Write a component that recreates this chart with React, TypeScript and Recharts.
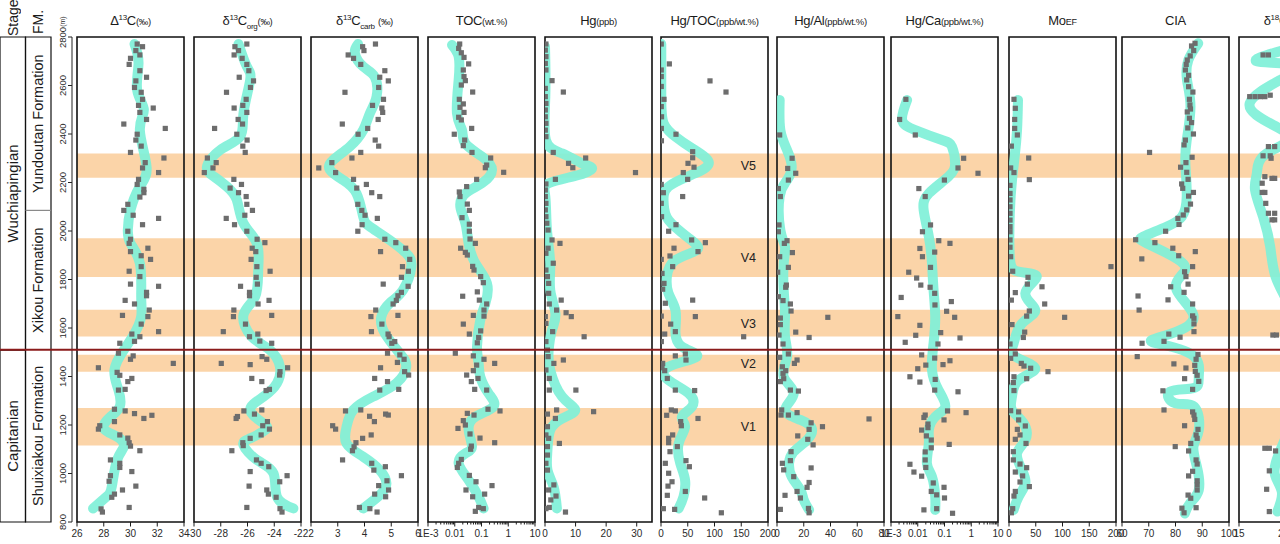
import React from 'react';
import { ComposedChart, Scatter, XAxis, YAxis, ReferenceArea, ReferenceLine } from 'recharts';

type Pair = [number, number];

// ---------------- data ----------------
const depthDomain: [number, number] = [800, 2800];
const depthTicks = [800, 1000, 1200, 1400, 1600, 1800, 2000, 2200, 2400, 2600, 2800];

const bandNames = ['V5', 'V4', 'V3', 'V2', 'V1'];
const bandTops = [2320, 1970, 1675, 1490, 1270];
const bandBases = [2220, 1810, 1565, 1420, 1115];
const boundaryDepth = 1510;

const stageNames = ['Wuchiapingian', 'Capitanian'];
const stageTops = [2800, 1510];
const stageBases = [1510, 800];
const fmNames = ['Yundoutan Formation', 'Xikou Formation', 'Shuixiakou Formation'];
const fmTops = [2800, 2085, 1510];
const fmBases = [2085, 1510, 800];

const capD13cPts: Pair[] = [[2771,30.5],[2760,30.9],[2744,30.4],[2726,30.7],[2712,30.0],[2687,29.9],[2661,30.7],[2634,31.2],[2619,30.4],[2592,30.3],[2572,30.8],[2543,30.9],[2507,31.7],[2518,30.6],[2489,30.7],[2460,31.2],[2441,29.5],[2423,32.6],[2399,30.5],[2375,30.4],[2350,30.8],[2324,30.0],[2301,32.5],[2282,31.1],[2260,30.9],[2241,32.1],[2213,30.6],[2192,30.5],[2172,31.0],[2158,31.0],[2140,30.7],[2110,29.8],[2085,29.5],[2065,30.2],[2052,32.1],[2026,30.9],[1999,29.8],[1966,30.0],[1949,29.9],[1929,31.3],[1915,30.0],[1898,30.8],[1883,31.5],[1853,30.8],[1834,29.9],[1812,30.7],[1781,30.0],[1772,32.1],[1747,31.2],[1733,31.2],[1714,29.6],[1699,30.3],[1674,31.4],[1652,29.4],[1647,31.3],[1616,30.8],[1585,32.1],[1575,30.1],[1564,30.7],[1545,30.3],[1537,29.2],[1496,29.1],[1485,30.2],[1471,30.0],[1454,33.2],[1436,27.6],[1417,29.0],[1405,29.2],[1392,30.1],[1379,29.8],[1347,29.6],[1344,29.1],[1265,28.8],[1258,29.6],[1247,30.3],[1240,31.6],[1227,31.0],[1214,28.8],[1197,27.7],[1183,27.6],[1159,29.2],[1146,29.8],[1127,29.9],[1113,30.0],[1094,30.7],[1056,28.5],[1042,29.2],[1025,29.2],[1008,30.1],[991,28.5],[968,28.4],[948,30.4],[932,29.4],[915,28.8],[902,28.6],[860,29.9],[854,27.8],[841,27.9]];
const capD13cLine: Pair[] = [[2771,30.3],[2691,30.6],[2581,30.5],[2500,31.0],[2416,30.7],[2265,31.2],[2183,30.7],[2087,30.0],[2004,29.8],[1949,30.0],[1867,30.7],[1729,30.8],[1647,30.8],[1578,30.3],[1509,29.5],[1427,28.8],[1344,29.1],[1276,29.2],[1234,28.5],[1186,28.0],[1152,29.0],[1111,29.5],[1056,29.0],[946,28.6],[904,28.2],[856,27.2]];

const orgPts: Pair[] = [[2771,-26.05],[2760,-26.94],[2744,-26.67],[2726,-27.0],[2712,-26.4],[2687,-26.05],[2661,-25.9],[2634,-26.62],[2619,-25.55],[2592,-25.78],[2572,-27.57],[2543,-26.1],[2518,-26.35],[2507,-27.0],[2489,-26.05],[2460,-26.7],[2441,-26.37],[2423,-28.46],[2399,-26.8],[2375,-26.03],[2350,-26.35],[2324,-26.17],[2301,-29.0],[2282,-28.34],[2260,-28.58],[2241,-29.23],[2213,-27.02],[2192,-26.45],[2177,-27.3],[2158,-26.67],[2142,-26.1],[2110,-26.05],[2085,-25.63],[2052,-27.59],[2065,-26.2],[2026,-26.97],[1999,-26.05],[1966,-25.28],[1952,-24.7],[1929,-25.65],[1915,-25.38],[1883,-25.73],[1853,-25.3],[1834,-24.31],[1809,-25.35],[1781,-25.26],[1772,-26.52],[1747,-25.85],[1733,-25.85],[1714,-24.39],[1699,-25.21],[1674,-27.02],[1647,-27.05],[1652,-24.19],[1616,-26.15],[1585,-27.81],[1575,-25.23],[1564,-25.85],[1546,-25.08],[1537,-24.19],[1482,-24.91],[1471,-24.56],[1454,-27.96],[1449,-25.8],[1436,-23.0],[1420,-23.57],[1406,-23.6],[1392,-25.68],[1379,-24.93],[1347,-24.36],[1342,-24.61],[1258,-26.27],[1262,-24.93],[1245,-25.48],[1235,-26.75],[1227,-26.85],[1214,-24.51],[1197,-24.86],[1183,-24.36],[1159,-24.98],[1145,-25.8],[1127,-26.35],[1115,-26.32],[1094,-27.17],[1056,-25.33],[1042,-24.98],[1028,-24.41],[1008,-25.8],[991,-23.04],[966,-23.59],[948,-25.88],[932,-24.56],[915,-24.44],[902,-23.86],[860,-26.05],[855,-23.57],[841,-23.42]];
const orgLine: Pair[] = [[2771,-26.67],[2678,-26.05],[2623,-25.8],[2485,-26.3],[2389,-26.55],[2334,-28.04],[2265,-29.03],[2224,-28.5],[2183,-27.54],[2128,-26.8],[2032,-26.3],[1949,-25.3],[1839,-25.2],[1729,-25.43],[1654,-26.3],[1564,-25.68],[1509,-24.31],[1440,-23.57],[1372,-23.8],[1317,-24.8],[1262,-25.8],[1207,-24.81],[1179,-24.68],[1145,-25.8],[1117,-26.3],[1056,-25.3],[1001,-24.06],[904,-23.8],[856,-22.57]];

const carbPts: Pair[] = [[2760,3.93],[2771,4.41],[2744,3.98],[2726,3.39],[2712,3.59],[2687,3.86],[2661,4.76],[2634,4.57],[2619,4.89],[2592,4.53],[2572,3.27],[2543,4.71],[2518,4.30],[2507,4.65],[2489,4.68],[2460,4.51],[2441,3.17],[2423,4.12],[2399,3.76],[2375,4.40],[2350,4.53],[2324,3.86],[2301,3.53],[2282,2.78],[2260,2.29],[2241,2.92],[2213,3.59],[2177,3.71],[2192,4.07],[2158,4.27],[2142,4.57],[2110,3.75],[2085,3.9],[2065,4.02],[2052,4.48],[2026,3.91],[1999,3.75],[1966,4.76],[1952,5.17],[1929,5.54],[1915,4.6],[1883,5.69],[1853,5.42],[1834,5.64],[1809,5.38],[1781,4.70],[1772,5.63],[1747,5.38],[1733,5.25],[1714,5.19],[1699,5.07],[1674,4.42],[1647,4.24],[1652,5.25],[1616,4.65],[1585,4.26],[1575,4.88],[1564,4.92],[1537,5.02],[1544,5.13],[1489,5.32],[1496,4.86],[1471,5.48],[1458,5.23],[1436,4.6],[1420,5.5],[1406,5.65],[1392,4.38],[1379,4.86],[1347,5.28],[1344,4.57],[1258,3.29],[1262,3.86],[1245,4.79],[1241,4.89],[1236,4.19],[1214,4.37],[1197,2.81],[1183,2.92],[1159,4.25],[1145,3.93],[1127,3.68],[1110,3.61],[1094,3.55],[1056,3.18],[1042,4.27],[1014,4.35],[1028,4.78],[991,5.38],[970,4.84],[932,4.90],[950,4.53],[915,4.38],[904,4.79],[860,3.81],[855,4.2],[841,4.47]];
const carbLine: Pair[] = [[2771,3.76],[2733,3.64],[2678,3.95],[2636,4.38],[2554,4.45],[2485,4.2],[2416,3.95],[2348,3.45],[2293,2.83],[2252,2.71],[2210,3.2],[2155,3.7],[2059,3.95],[2018,4.2],[1963,4.94],[1908,5.56],[1853,5.75],[1757,5.44],[1702,4.94],[1647,4.63],[1578,4.76],[1495,5.32],[1440,5.56],[1372,5.19],[1317,4.32],[1262,3.58],[1193,3.33],[1124,3.33],[1069,3.95],[1014,4.57],[959,4.82],[911,4.57],[856,3.95]];

const tocPts: Pair[] = [[2771,0.0153],[2753,0.014],[2735,0.0176],[2716,0.0222],[2689,0.0331],[2664,0.0209],[2637,0.0222],[2620,0.0249],[2602,0.0176],[2573,0.0468],[2543,0.0148],[2524,0.0209],[2510,0.0157],[2489,0.0222],[2469,0.014],[2458,0.0176],[2423,0.0429],[2399,0.0096],[2375,0.0235],[2352,0.0209],[2324,0.0442],[2301,0.22],[2272,0.156],[2261,0.139],[2242,0.674],[2213,0.0659],[2183,0.0279],[2161,0.0148],[2142,0.0157],[2111,0.0295],[2085,0.0351],[2055,0.0187],[2028,0.0351],[1999,0.0351],[1967,0.0372],[1949,0.0588],[1929,0.0166],[1912,0.0249],[1901,0.0295],[1854,0.0468],[1839,0.0525],[1812,0.0931],[1787,0.117],[1749,0.0698],[1731,0.0198],[1715,0.083],[1699,0.156],[1674,0.124],[1652,0.0495],[1649,0.124],[1616,0.0209],[1588,0.0931],[1575,0.0351],[1561,0.0783],[1539,0.0698],[1496,0.0105],[1485,0.0495],[1471,0.124],[1454,0.311],[1447,0.0659],[1424,0.0495],[1406,0.0279],[1392,0.074],[1379,0.0417],[1347,0.0556],[1344,0.156],[1258,0.492],[1265,0.175],[1248,0.0295],[1241,0.0525],[1218,0.0209],[1200,0.0249],[1186,0.0132],[1163,0.0372],[1146,0.0879],[1127,0.311],[1113,0.0417],[1100,0.0394],[1058,0.0176],[1042,0.014],[1025,0.0125],[992,0.0351],[966,0.0623],[950,0.247],[932,0.0263],[915,0.131],[904,0.0468],[860,0.0783],[855,0.117],[844,0.0588]];
const tocLine: Pair[] = [[2767,0.0079],[2719,0.014],[2623,0.014],[2485,0.0121],[2416,0.0187],[2361,0.0249],[2307,0.104],[2252,0.247],[2197,0.104],[2155,0.0249],[2100,0.0162],[2032,0.0249],[1949,0.0331],[1867,0.0588],[1784,0.16],[1702,0.14],[1633,0.09],[1523,0.068],[1454,0.078],[1399,0.09],[1330,0.185],[1276,0.28],[1234,0.059],[1179,0.033],[1111,0.044],[1083,0.025],[1042,0.014],[973,0.033],[904,0.078],[856,0.12]];

const hgPts: Pair[] = [[2771,0.3],[2746,0.1],[2719,0.3],[2691,0.1],[2664,0.3],[2620,2.3],[2573,6.0],[2588,0.1],[2554,0.1],[2526,0.3],[2499,0.1],[2471,0.1],[2444,0.3],[2416,0.1],[2389,0.3],[2324,2.7],[2301,13.3],[2279,7.7],[2261,9.1],[2241,29.6],[2213,3.4],[2194,0.3],[2169,0.1],[2142,0.1],[2114,0.3],[2087,0.1],[2059,0.3],[2032,0.6],[2004,1.0],[1963,2.3],[1949,4.9],[1929,1.0],[1908,0.3],[1867,2.7],[1839,0.3],[1812,0.8],[1784,1.2],[1743,1.2],[1715,5.3],[1699,1.4],[1674,3.8],[1663,6.9],[1647,8.6],[1647,0.1],[1619,0.3],[1585,2.5],[1564,12.8],[1544,0.3],[1509,0.8],[1482,1.0],[1468,6.0],[1454,2.9],[1427,0.3],[1392,1.4],[1344,10.1],[1344,1.4],[1262,3.8],[1255,15.9],[1245,0.8],[1227,3.4],[1193,0.8],[1159,0.3],[1145,1.2],[1124,4.7],[1111,0.8],[1076,0.8],[1042,0.3],[1014,0.8],[953,2.9],[932,1.2],[907,3.6],[891,1.9],[860,1.4],[855,0.3],[841,6.7]];
const hgLine: Pair[] = [[2760,0],[2554,0.1],[2375,0.3],[2320,5.6],[2279,12.1],[2258,15.4],[2231,11],[2197,1.2],[2142,0.1],[2004,0.65],[1867,1.7],[1757,1.7],[1660,3.4],[1592,2.3],[1509,1.2],[1427,1.7],[1317,5.6],[1262,9.9],[1227,5.6],[1179,1.7],[1097,0.8],[1014,0.8],[946,2.8],[856,3.9]];

const hgTocPts: Pair[] = [[2771,0.5],[2689,15.6],[2664,0.5],[2619,91.6],[2573,121.5],[2637,0.5],[2596,0.5],[2543,5.6],[2513,0.5],[2471,1.0],[2423,0.6],[2399,28],[2372,0.8],[2327,59.2],[2302,59.2],[2279,50.5],[2263,61.7],[2241,41.7],[2213,49.8],[2192,0.5],[2158,4.4],[2142,40.5],[2114,0.5],[2059,1.0],[1999,14.3],[2026,28],[1963,57.3],[1952,82.9],[1915,69.2],[1929,24.3],[1897,16.8],[1883,0.5],[1853,21.8],[1825,1.9],[1784,5.6],[1760,3.1],[1702,8.1],[1715,59.2],[1647,64.2],[1649,0.5],[1616,18.1],[1575,6.9],[1585,26.8],[1564,154.5],[1544,0.6],[1485,26.8],[1493,45.5],[1468,46.7],[1454,3.1],[1436,1.9],[1424,6.9],[1392,11.8],[1344,26.8],[1342,62.9],[1258,26.8],[1262,19.3],[1240,10.6],[1214,36.8],[1197,38],[1227,69.2],[1159,21.8],[1145,14.3],[1127,14.3],[1111,30.5],[1090,16.8],[1042,8.1],[1053,46.7],[1001,14.3],[1028,53],[966,20.6],[948,13.1],[926,45.5],[910,11.8],[899,81.6],[855,4.4],[852,25.5],[838,112.8]];
const hgTocLine: Pair[] = [[2771,0.5],[2554,0.5],[2444,5],[2389,26.8],[2341,58],[2286,89],[2238,64],[2183,14],[2114,5],[2045,14],[1970,52],[1922,67],[1880,27],[1812,11],[1743,14],[1674,27],[1592,27],[1523,39],[1482,67],[1440,14],[1385,14],[1330,52],[1276,58],[1234,39],[1193,45],[1124,33],[1042,36],[973,45],[904,42],[856,33]];

const hgAlPts: Pair[] = [[2396,2],[2300,11.3],[2258,8],[2238,14],[2210,8.5],[2175,1],[2142,2.5],[2025,1.5],[1997,1],[1960,7.5],[1949,5.5],[1911,11.5],[1894,2],[1850,8.5],[1830,0.5],[1777,7],[1768,6.5],[1729,1],[1713,4.5],[1699,10],[1670,10.5],[1644,38],[1641,2.5],[1614,2.5],[1571,1.5],[1583,14],[1561,24],[1534,4.5],[1493,8.5],[1479,2],[1468,15],[1454,13],[1440,4],[1424,6.5],[1413,4.5],[1391,5],[1379,2.5],[1344,10],[1340,16],[1262,3.5],[1241,3],[1241,8.5],[1251,15],[1225,68.8],[1209,25.5],[1193,34],[1182,24],[1155,15.5],[1141,23],[1118,27],[1090,10.5],[1042,4],[1053,10],[1015,5],[1023,25.5],[987,12.5],[963,24],[943,22.5],[910,6],[926,15],[899,17.5],[852,2.5],[856,23.5],[838,24]];
const hgAlLine: Pair[] = [[2540,2],[2416,2.5],[2334,7.5],[2265,11],[2210,7.5],[2142,2],[2004,2.5],[1935,6],[1867,5],[1757,5],[1660,6],[1564,6],[1482,7.5],[1399,5],[1330,12.5],[1262,6],[1221,17.5],[1186,26],[1138,22.5],[1090,12.5],[1042,9],[987,11],[932,17.5],[891,20],[850,24]];

const hgCaPts: Pair[] = [[2543,0.0036],[2460,0.0021],[2396,0.0081],[2300,0.52],[2260,0.32],[2238,1.79],[2210,0.099],[2175,0.011],[2142,0.019],[2025,0.030],[1997,0.015],[1960,0.061],[1949,0.16],[1928,0.012],[1913,0.043],[1894,0.015],[1850,0.030],[1830,0.0046],[1806,0.0091],[1777,0.013],[1768,0.029],[1743,0.043],[1726,0.0024],[1709,0.18],[1695,0.044],[1669,0.12],[1647,0.0018],[1644,0.24],[1611,0.012],[1581,0.072],[1570,0.0084],[1559,0.38],[1541,0.0034],[1534,0.057],[1489,0.014],[1476,0.043],[1465,0.16],[1447,0.020],[1449,0.088],[1432,0.010],[1399,0.0051],[1377,0.012],[1388,0.045],[1344,0.043],[1337,0.32],[1258,0.13],[1251,0.64],[1241,0.019],[1231,0.017],[1221,0.096],[1204,0.024],[1179,0.014],[1189,0.024],[1155,0.021],[1138,0.032],[1120,0.15],[1089,0.019],[1106,0.032],[1038,0.0051],[1056,0.019],[1006,0.0072],[989,0.014],[1025,0.020],[961,0.038],[943,0.096],[926,0.032],[912,0.051],[899,0.10],[850,0.017],[855,0.051],[836,0.20]];
const hgCaLine: Pair[] = [[2540,0.004],[2458,0.0026],[2416,0.0081],[2375,0.08],[2348,0.19],[2279,0.25],[2224,0.14],[2155,0.026],[2087,0.0166],[1977,0.026],[1867,0.034],[1757,0.039],[1647,0.045],[1537,0.039],[1427,0.034],[1344,0.06],[1276,0.107],[1234,0.045],[1179,0.026],[1124,0.026],[1042,0.022],[987,0.034],[904,0.045],[850,0.045]];

const moPts: Pair[] = [[2543,9.3],[2506,11.8],[2460,10.6],[2423,10.6],[2396,15.6],[2350,4.4],[2301,36.8],[2260,3.1],[2241,9.3],[2212,38],[2188,1.9],[2155,1.9],[2128,1.9],[2100,1.9],[2073,1.9],[2045,1.9],[2018,1.9],[1997,1.9],[1963,1.9],[1933,1.9],[1894,3.1],[1853,190.6],[1834,6.9],[1809,35.5],[1781,34.3],[1770,61.7],[1746,11.8],[1715,4.4],[1699,66.7],[1670,38],[1649,33],[1644,104],[1614,5.6],[1583,29.3],[1561,26.8],[1534,1.9],[1493,11.8],[1475,3.1],[1454,23],[1443,28],[1434,40.5],[1420,72.9],[1391,33],[1399,9.3],[1375,8.1],[1342,9.3],[1259,3.1],[1254,18],[1221,18],[1196,30.5],[1182,15.6],[1159,20.6],[1141,11.8],[1124,31.8],[1090,8.1],[1056,8.1],[1039,20.6],[1024,33],[1006,11.8],[990,25.5],[965,20.6],[946,38],[926,11.8],[907,9.3],[855,6.9],[838,4.4]];
const moLine: Pair[] = [[2540,16.8],[2416,15],[2307,10.6],[2210,5.6],[2073,1.5],[1894,1.5],[1832,18],[1812,52],[1743,30.5],[1674,49.2],[1619,24.3],[1537,8.7],[1482,11.8],[1434,49],[1385,18],[1317,5.6],[1262,5.6],[1207,27.4],[1138,30.5],[1083,15],[1014,24.3],[959,30.5],[904,18],[850,8.7]];

const ciaPts: Pair[] = [[2774,87.3],[2763,86.0],[2744,86.8],[2722,85.5],[2705,84.4],[2687,84.0],[2664,83.7],[2642,84.9],[2623,84.2],[2595,84.9],[2573,86.5],[2543,85.2],[2520,85.4],[2503,85.6],[2491,84.4],[2465,85.2],[2447,86.0],[2425,84.6],[2400,86.7],[2375,83.7],[2355,83.2],[2324,70.3],[2304,86.2],[2282,83.9],[2263,81.9],[2242,84.2],[2213,84.7],[2194,82.3],[2176,82.7],[2159,86.7],[2144,84.9],[2111,85.6],[2087,84.2],[2066,82.9],[2052,80.9],[2027,81.3],[1999,76.3],[1964,65.1],[1952,72.3],[1929,79.0],[1915,87.4],[1885,67.4],[1898,81.2],[1853,86.4],[1832,83.4],[1812,83.9],[1781,84.7],[1770,78.2],[1747,83.2],[1732,66.0],[1716,77.2],[1699,86.4],[1674,66.4],[1650,86.4],[1640,86.9],[1617,86.9],[1585,86.9],[1575,77.5],[1562,81.7],[1545,75.7],[1537,67.5],[1491,88.4],[1482,65.7],[1471,87.7],[1452,79.4],[1446,87.2],[1435,83.9],[1421,87.4],[1405,88.1],[1391,83.4],[1380,88.7],[1347,86.4],[1341,75.3],[1262,75.7],[1254,86.4],[1241,86.9],[1223,87.2],[1197,83.4],[1182,88.4],[1159,87.7],[1145,88.1],[1124,85.7],[1111,79.9],[1093,84.9],[1056,87.7],[1039,88.1],[1009,86.4],[990,84.9],[970,88.1],[953,88.1],[932,88.1],[911,84.7],[898,85.7],[859,87.7],[857,82.4],[838,83.2]];
const ciaLine: Pair[] = [[2774,88.5],[2705,84.8],[2623,84.3],[2513,85.6],[2375,84.2],[2279,83.7],[2142,84.2],[2059,82.4],[2018,76.8],[1977,68.0],[1949,69.3],[1880,81.3],[1826,82.9],[1757,80.4],[1653,86.7],[1585,80.4],[1550,71.1],[1530,75.7],[1482,87.0],[1399,88.7],[1352,86.7],[1337,77.9],[1290,79.9],[1276,87.0],[1179,88.7],[1111,86.7],[1028,88.0],[932,88.7],[877,85.4],[835,83.5]];

const o18Pts: Pair[] = [[2726,17.7],[2726,18.3],[2554,16.2],[2554,16.8],[2554,17.4],[2554,17.9],[2560,18.5],[2348,18.3],[2348,19.0],[2310,17.7],[2310,18.5],[2300,18.6],[2224,17.9],[2217,18.7],[2217,19.0],[2197,17.6],[2159,17.9],[2159,17.6],[2114,18.0],[2073,18.3],[2073,19.0],[2046,18.7],[2046,19.0],[1571,18.8],[1571,19.2],[1104,17.9],[1104,18.4],[1093,19.1],[1011,18.4],[935,18.1],[843,18.4]];
const o18Line: Pair[] = [[2760,21.5],[2700,17.0],[2670,21.5],[2527,16.2],[2400,20.5],[2320,18.1],[2238,17.0],[2169,16.8],[2059,17.7],[1935,18.5],[1812,19.1],[1700,20.5],[1590,21.5],[1450,23],[1300,22],[1110,19.8],[1000,19.0],[925,19.8],[843,19.3]];

const logMajorTicks = [0.001, 0.01, 0.1, 1, 10];
const logAllTicks = [0.001,0.002,0.003,0.004,0.005,0.006,0.007,0.008,0.009,0.01,0.02,0.03,0.04,0.05,0.06,0.07,0.08,0.09,0.1,0.2,0.3,0.4,0.5,0.6,0.7,0.8,0.9,1,2,3,4,5,6,7,8,9,10];

// ---------------- styles / layout ----------------
const W = 1280;
const H = 544;
const TOP = 37;
const AXIS_H = 22;
const PW = 107;
const PAD = 14;
const FONT = '"Liberation Sans", Arial, Helvetica, sans-serif';
const GRAY = '#6d6d6d';
const CYAN = '#7ff0d8';
const BAND = '#fbd4a8';
const RED = '#8b1b1b';
const INK = '#1b1b1b';

const toRows = (a: Pair[]) => a.map(([d, v]) => ({ d, v }));
// rows for the helper charts: depth extent plus a column index inside [0, 2]
const frameRows = [{ d: depthDomain[0], c: 0 }, { d: depthDomain[1], c: 2 }];

const sup: React.CSSProperties = { fontSize: 8, verticalAlign: 'super', lineHeight: 0 };
const sub: React.CSSProperties = { fontSize: 8, verticalAlign: 'sub', lineHeight: 0 };
const sm: React.CSSProperties = { fontSize: 9.5 };

const fmtNum = (v: number) => String(v);
const fmtLog = (v: number) => (v === 0.001 ? '1E-3' : String(v));

type PanelCfg = {
  title: React.ReactNode;
  domain: [number, number];
  ticks: number[];
  majors: number[];
  log?: boolean;
  fmt: (v: number) => string;
  pts: Pair[];
  line: Pair[];
  bandLabels?: boolean;
};

const panels: PanelCfg[] = [
  { title: <>Δ<span style={sup}>13</span>C<span style={sm}>(‰)</span></>, domain: [26, 34], ticks: [26, 28, 30, 32, 34], majors: [26, 28, 30, 32, 34], fmt: fmtNum, pts: capD13cPts, line: capD13cLine },
  { title: <>δ<span style={sup}>13</span>C<span style={sub}>org</span><span style={sm}>(‰)</span></>, domain: [-30, -22], ticks: [-30, -28, -26, -24, -22], majors: [-30, -28, -26, -24, -22], fmt: fmtNum, pts: orgPts, line: orgLine },
  { title: <>δ<span style={sup}>13</span>C<span style={sub}>carb</span> <span style={sm}>(‰)</span></>, domain: [2, 6], ticks: [2, 3, 4, 5, 6], majors: [2, 3, 4, 5, 6], fmt: fmtNum, pts: carbPts, line: carbLine },
  { title: <>TOC<span style={sm}>(wt.%)</span></>, domain: [0.001, 10], ticks: logAllTicks, majors: logMajorTicks, log: true, fmt: fmtLog, pts: tocPts, line: tocLine },
  { title: <>Hg<span style={sm}>(ppb)</span></>, domain: [0, 35], ticks: [0, 10, 20, 30], majors: [0, 10, 20, 30], fmt: fmtNum, pts: hgPts, line: hgLine },
  { title: <>Hg/TOC<span style={sm}>(ppb/wt.%)</span></>, domain: [0, 200], ticks: [0, 50, 100, 150, 200], majors: [0, 50, 100, 150, 200], fmt: fmtNum, pts: hgTocPts, line: hgTocLine, bandLabels: true },
  { title: <>Hg/Al<span style={sm}>(ppb/wt.%)</span></>, domain: [0, 80], ticks: [0, 20, 40, 60, 80], majors: [0, 20, 40, 60, 80], fmt: fmtNum, pts: hgAlPts, line: hgAlLine },
  { title: <>Hg/Ca<span style={sm}>(ppb/wt.%)</span></>, domain: [0.001, 10], ticks: logAllTicks, majors: logMajorTicks, log: true, fmt: fmtLog, pts: hgCaPts, line: hgCaLine },
  { title: <>Mo<span style={{ fontSize: 9 }}>EF</span></>, domain: [0, 200], ticks: [0, 50, 100, 150, 200], majors: [0, 50, 100, 150, 200], fmt: fmtNum, pts: moPts, line: moLine },
  { title: <>CIA</>, domain: [60, 100], ticks: [60, 70, 80, 90, 100], majors: [60, 70, 80, 90, 100], fmt: fmtNum, pts: ciaPts, line: ciaLine },
  { title: <>δ<span style={sup}>18</span>O<span style={sub}>carb</span> <span style={sm}>(‰)</span></>, domain: [15, 27], ticks: [15, 20, 25], majors: [15, 20, 25], fmt: fmtNum, pts: o18Pts, line: o18Line },
];
const panelLefts = [77, 194, 311, 428, 545, 661, 777, 891, 1009, 1122, 1239];

// ---------------- pieces ----------------
const isMajor = (majors: number[], v: number) => majors.some((m) => Math.abs(m - v) < 1e-9 * Math.max(1, Math.abs(m)));

const makeBottomTick = (majors: number[], fmt: (v: number) => string) => (props: any) => {
  const { x, y, payload } = props;
  const v = payload.value as number;
  const major = isMajor(majors, v);
  return (
    <g>
      <line x1={x} x2={x} y1={y} y2={y + (major ? 4.5 : 2.5)} stroke={INK} strokeWidth={1} />
      {major && (
        <text x={x} y={y + 15} textAnchor="middle" fontSize={10} fill="#2a2a2a" fontFamily={FONT}>
          {fmt(v)}
        </text>
      )}
    </g>
  );
};

const DepthTick = (props: any) => {
  const { x, y, payload } = props;
  const v = payload.value as number;
  const cx = x - 4;
  if (v === 2800) {
    return (
      <text transform={`translate(${cx},${y}) rotate(-90)`} x={-11} y={0} dominantBaseline="central" fontSize={9.5} fill="#2a2a2a" fontFamily={FONT}>
        2800<tspan fontSize={7}>(m)</tspan>
      </text>
    );
  }
  return (
    <text transform={`translate(${cx},${y}) rotate(-90)`} x={0} y={0} textAnchor="middle" dominantBaseline="central" fontSize={9.5} fill="#2a2a2a" fontFamily={FONT}>
      {v}
    </text>
  );
};

const squareShape = (p: any) => <rect x={p.cx - 2.6} y={p.cy - 2.6} width={5.2} height={5.2} fill={GRAY} />;
const emptyShape = () => <g />;

function Panel({ cfg, left }: { cfg: PanelCfg; left: number }) {
  const ptsRows = toRows(cfg.pts);
  const lineRows = toRows(cfg.line);
  return (
    <div style={{ position: 'absolute', left: left - PAD, top: 0, width: PW + 2 * PAD, height: H }}>
      <ComposedChart width={PW + 2 * PAD} height={H} margin={{ top: TOP, right: PAD, bottom: 0, left: PAD }}>
        <XAxis
          type="number"
          dataKey="v"
          domain={cfg.domain}
          scale={cfg.log ? 'log' : 'linear'}
          ticks={cfg.ticks}
          interval={0}
          allowDataOverflow
          height={AXIS_H}
          tickSize={0}
          tickMargin={0}
          axisLine={false}
          tickLine={false}
          tick={makeBottomTick(cfg.majors, cfg.fmt)}
        />
        <YAxis type="number" dataKey="d" domain={depthDomain} hide allowDataOverflow />
        <Scatter
          data={lineRows}
          line={{ stroke: CYAN, strokeWidth: 10, strokeLinecap: 'round', strokeLinejoin: 'round', strokeOpacity: 0.92 }}
          lineJointType="natural"
          shape={emptyShape}
          isAnimationActive={false}
        />
        <Scatter data={ptsRows} shape={squareShape} isAnimationActive={false} />
        {cfg.bandLabels &&
          bandNames.map((n, i) => (
            <ReferenceArea
              key={n}
              y1={bandBases[i]}
              y2={bandTops[i]}
              fill="none"
              stroke="none"
              label={{ value: n, position: 'insideRight', offset: 12, fontSize: 12.5, fill: '#222', fontFamily: FONT }}
            />
          ))}
        <ReferenceArea x1={cfg.domain[0]} x2={cfg.domain[1]} y1={depthDomain[0]} y2={depthDomain[1]} fill="none" stroke="#111" strokeWidth={1.6} />
      </ComposedChart>
      <div
        style={{
          position: 'absolute',
          left: PAD - 20,
          width: PW + 40,
          top: 13,
          textAlign: 'center',
          whiteSpace: 'nowrap',
          fontSize: 13,
          lineHeight: '16px',
          color: INK,
          letterSpacing: '-0.3px',
        }}
      >
        {cfg.title}
      </div>
    </div>
  );
}

export default function App() {
  return (
    <div style={{ position: 'absolute', left: 0, top: 0, width: W, height: H, overflow: 'hidden', background: '#fff', fontFamily: FONT }}>
      {/* event bands */}
      <div style={{ position: 'absolute', left: panelLefts[0], top: 0 }}>
        <ComposedChart width={W - panelLefts[0]} height={H} data={frameRows} margin={{ top: TOP, right: 0, bottom: AXIS_H, left: 0 }}>
          <XAxis type="number" dataKey="c" domain={[0, 2]} hide allowDataOverflow />
          <YAxis type="number" dataKey="d" domain={depthDomain} hide allowDataOverflow />
          {bandNames.map((n, i) => (
            <ReferenceArea key={n} y1={bandBases[i]} y2={bandTops[i]} fill={BAND} fillOpacity={1} stroke="none" />
          ))}
        </ComposedChart>
      </div>

      {/* stratigraphic columns */}
      <div style={{ position: 'absolute', left: 0, top: 0 }}>
        <ComposedChart width={53} height={H} data={frameRows} margin={{ top: TOP, right: 2, bottom: AXIS_H, left: 0 }}>
          <XAxis type="number" dataKey="c" domain={[0, 2]} hide allowDataOverflow />
          <YAxis type="number" dataKey="d" domain={depthDomain} hide allowDataOverflow />
          {stageNames.map((n, i) => (
            <ReferenceArea
              key={n}
              x1={0}
              x2={1}
              y1={stageBases[i]}
              y2={stageTops[i]}
              fill="none"
              stroke="#111"
              strokeWidth={1.2}
              label={{ value: n, angle: -90, position: 'center', fontSize: 15, fill: INK, fontFamily: FONT }}
            />
          ))}
          {fmNames.map((n, i) => (
            <ReferenceArea
              key={n}
              x1={1}
              x2={2}
              y1={fmBases[i]}
              y2={fmTops[i]}
              fill="none"
              stroke="none"
              label={{ value: n, angle: -90, position: 'center', fontSize: 14.5, fill: INK, fontFamily: FONT }}
            />
          ))}
          <ReferenceArea x1={1} x2={2} y1={depthDomain[0]} y2={depthDomain[1]} fill="none" stroke="#111" strokeWidth={1.2} />
          <ReferenceLine segment={[{ x: 1, y: fmBases[0] }, { x: 2, y: fmBases[0] }]} stroke="#8a8a8a" strokeWidth={1.2} />
        </ComposedChart>
      </div>

      {/* depth axis */}
      <div style={{ position: 'absolute', left: 0, top: 0 }}>
        <ComposedChart width={77} height={H} data={frameRows} margin={{ top: TOP, right: 0, bottom: AXIS_H, left: 51 }}>
          <XAxis type="number" dataKey="c" domain={[0, 2]} hide allowDataOverflow />
          <YAxis
            type="number"
            dataKey="d"
            domain={depthDomain}
            allowDataOverflow
            ticks={depthTicks}
            interval={0}
            width={21}
            tickSize={4}
            tickMargin={2}
            stroke="#222"
            tick={<DepthTick />}
          />
        </ComposedChart>
      </div>

      {/* headers */}
      <div style={{ position: 'absolute', left: 4, top: 2, height: 34, writingMode: 'vertical-rl', transform: 'rotate(180deg)', fontSize: 14, lineHeight: '18px', color: INK, textAlign: 'left' }}>
        Stage
      </div>
      <div style={{ position: 'absolute', left: 29, top: 2, height: 32, writingMode: 'vertical-rl', transform: 'rotate(180deg)', fontSize: 14, lineHeight: '18px', color: INK, textAlign: 'left' }}>
        FM.
      </div>

      {/* panels */}
      {panels.map((p, i) => (
        <Panel key={i} cfg={p} left={panelLefts[i]} />
      ))}

      {/* boundary line */}
      <div style={{ position: 'absolute', left: 0, top: 0, pointerEvents: 'none' }}>
        <ComposedChart width={W} height={H} data={frameRows} margin={{ top: TOP, right: 0, bottom: AXIS_H, left: 0 }}>
          <XAxis type="number" dataKey="c" domain={[0, 2]} hide allowDataOverflow />
          <YAxis type="number" dataKey="d" domain={depthDomain} hide allowDataOverflow />
          <ReferenceLine y={boundaryDepth} stroke={RED} strokeWidth={2} />
        </ComposedChart>
      </div>
    </div>
  );
}
